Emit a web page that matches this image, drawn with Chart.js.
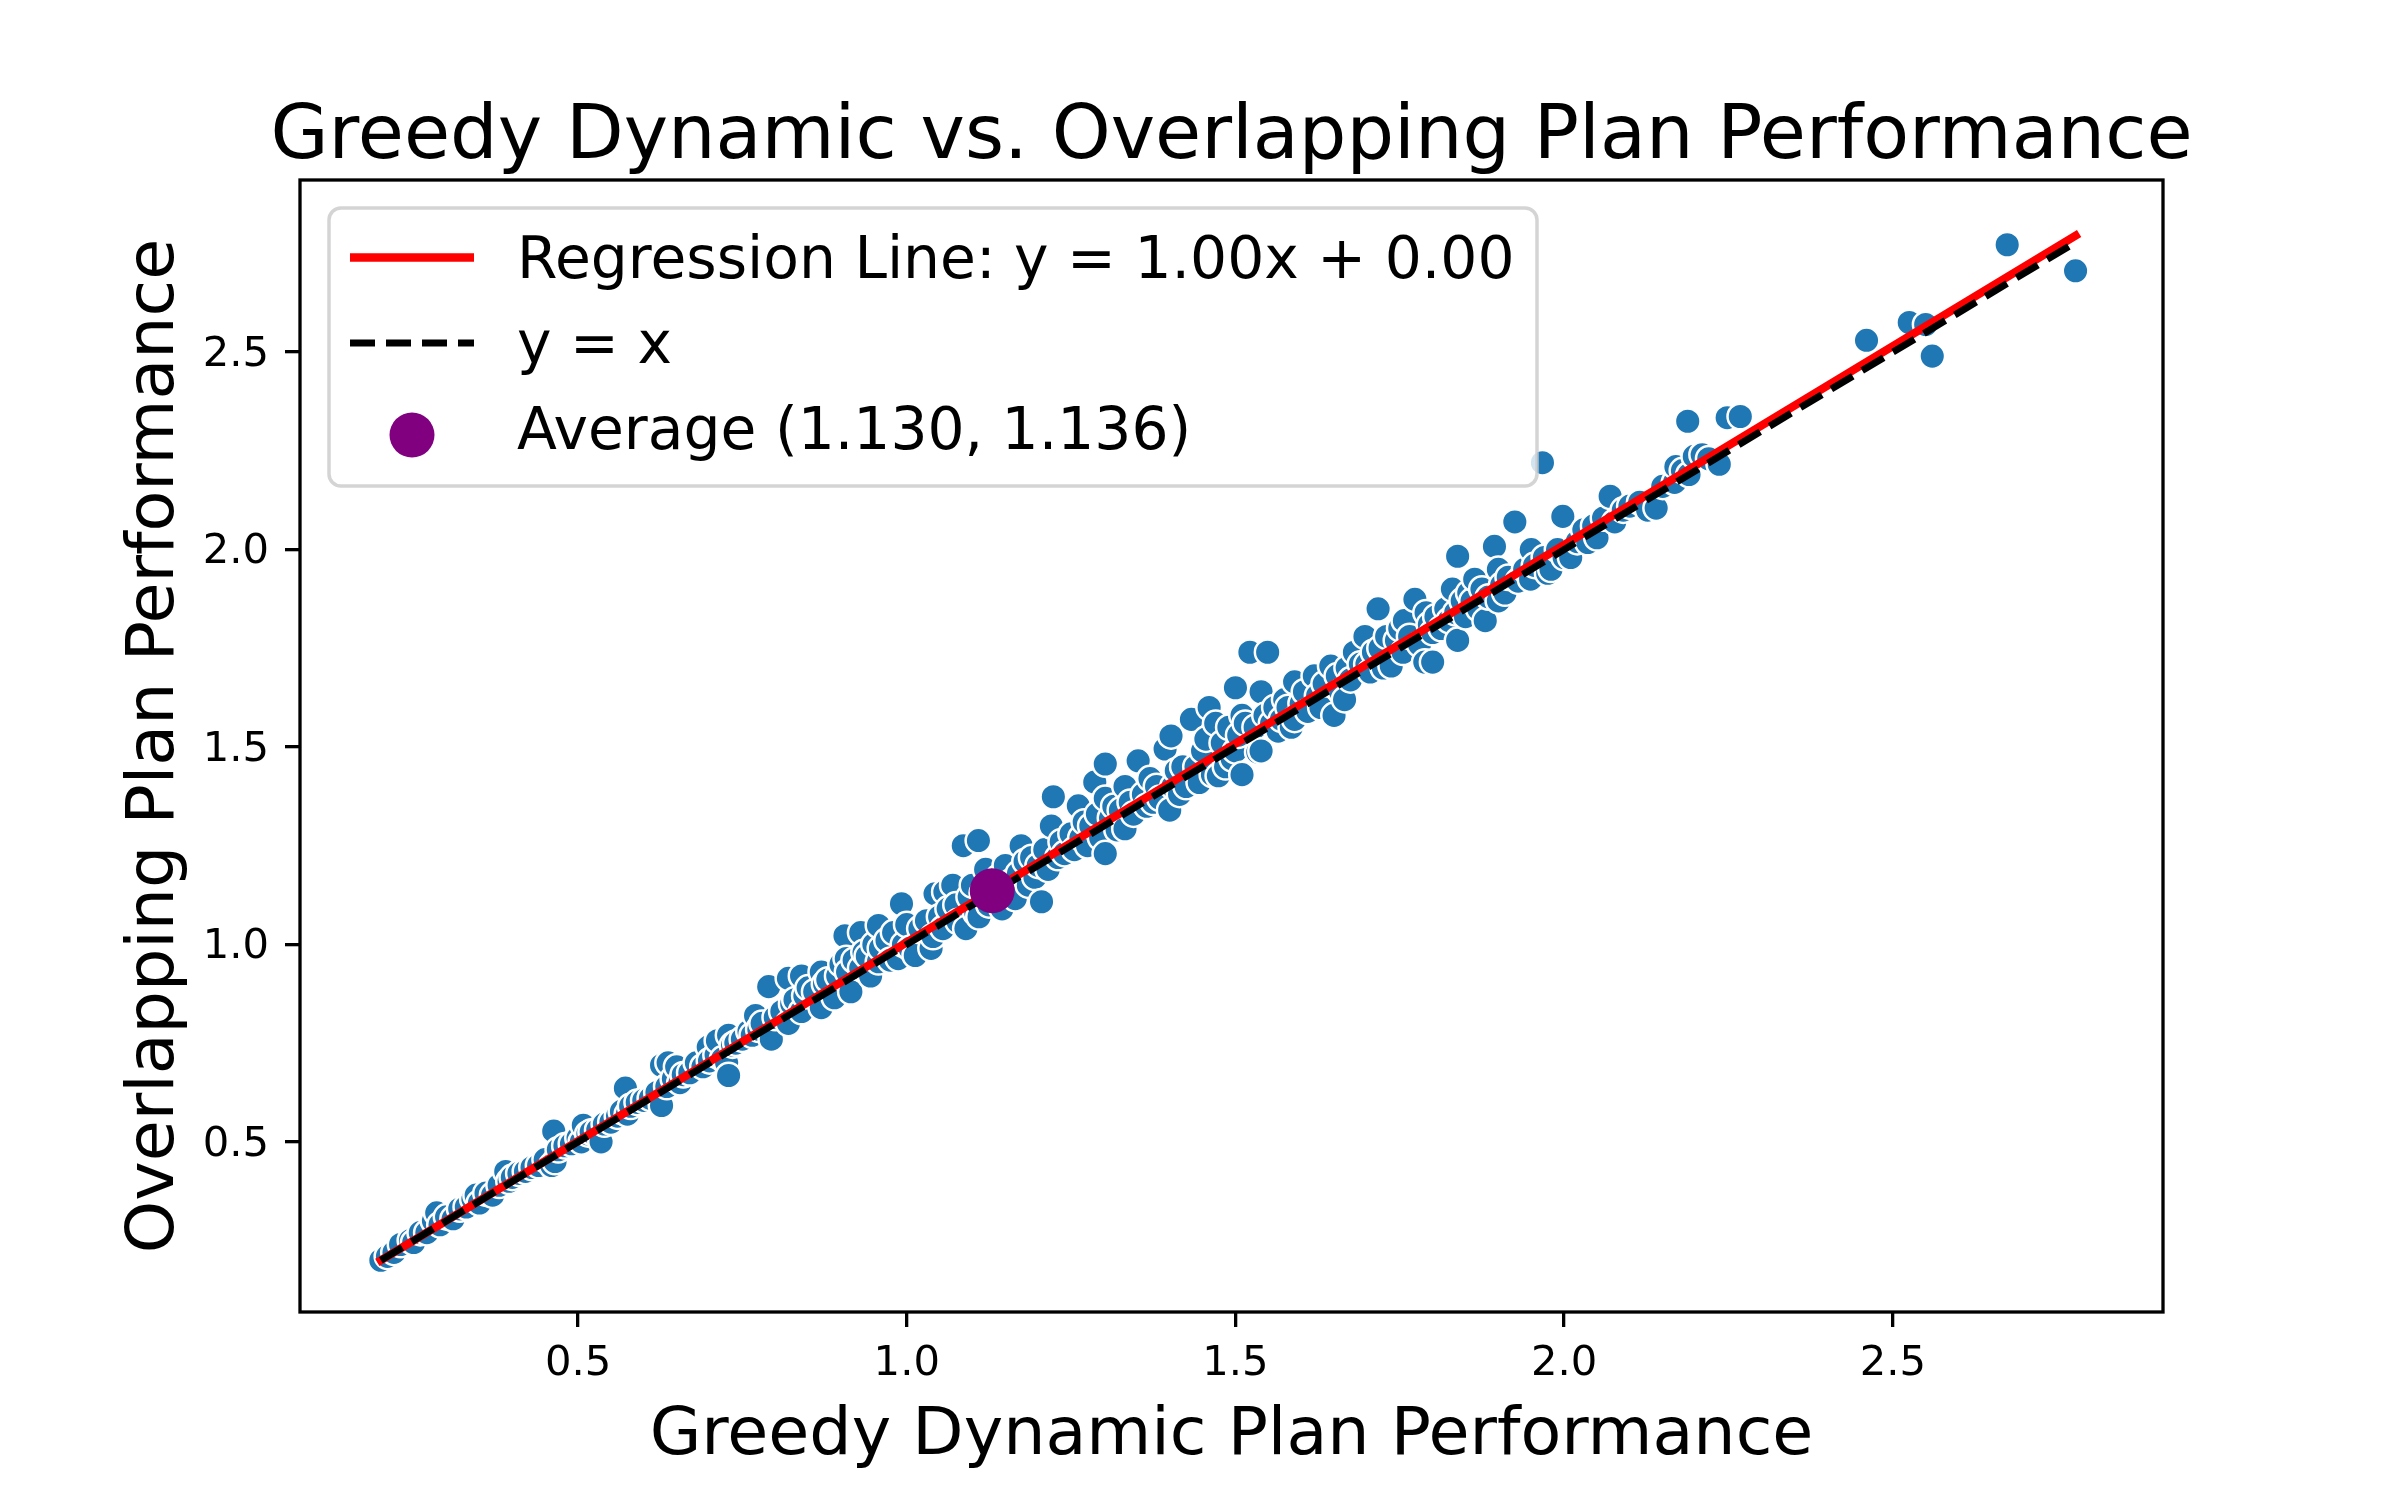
<!DOCTYPE html>
<html><head><meta charset="utf-8">
<script src="https://cdn.jsdelivr.net/npm/chart.js@4.4.1/dist/chart.umd.min.js"></script>
<style>html,body{margin:0;padding:0;background:#fff;}canvas{display:block;}</style>
</head><body>
<canvas id="c" width="2400" height="1500" style="width:2400px;height:1500px"></canvas>
<script>
// ---- data ----
const greedyPerf = [
 0.20,0.21,0.22,0.23,0.245,0.25,0.26,0.27,0.28,0.285,0.29,0.30,0.31,0.32,0.33,0.34,0.345,0.35,0.36,0.37,0.38,0.39,0.395,0.40,0.41,0.42,0.43,0.44,0.45,0.46,0.463,0.465,0.47,0.48,0.49,0.50,
 0.505,0.508,0.515,0.52,0.53,0.535,0.54,0.55,0.56,0.566,0.572,0.575,0.58,0.59,0.60,0.61,0.62,0.627,0.627,0.635,0.637,0.645,0.65,0.655,0.66,0.67,0.68,0.69,0.698,0.70,0.71,0.712,0.72,0.726,0.729,0.729,0.735,0.74,0.75,0.76,0.765,0.77,0.775,0.78,0.79,0.794,0.80,
 0.81,0.82,0.82,0.825,0.83,0.84,0.84,0.845,0.85,0.86,0.87,0.87,0.875,0.88,0.89,0.895,0.90,0.906,0.908,0.91,0.915,0.92,0.93,0.93,0.935,0.94,0.945,0.95,0.957,0.957,0.96,0.97,0.975,0.98,0.987,0.992,0.995,1.0,1.005,
 1.013,1.02,1.03,1.037,1.04,1.043,1.05,1.055,1.058,1.063,1.07,1.075,1.078,1.086,1.09,1.095,1.10,1.105,1.109,1.11,1.115,1.12,1.125,1.135,1.14,1.145,1.15,1.155,1.16,1.165,1.17,1.174,1.18,1.185,1.19,1.195,1.20,
 1.205,1.21,1.215,1.22,1.223,1.23,1.235,1.24,1.25,1.255,1.261,1.265,1.27,1.275,1.28,1.286,1.29,1.295,1.302,1.302,1.302,1.31,1.315,1.32,1.325,1.332,1.332,1.34,1.345,1.352,1.36,1.365,1.37,1.375,1.38,1.385,1.393,1.40,1.402,1.405,1.41,1.415,1.42,1.425,1.433,1.44,1.445,1.45,1.455,1.46,1.465,1.47,1.474,1.48,1.485,1.49,1.495,1.50,1.50,
 1.505,1.51,1.51,1.515,1.522,1.53,1.534,1.539,1.539,1.545,1.549,1.555,1.56,1.565,1.57,1.575,1.58,1.585,1.59,1.59,1.60,1.605,1.61,1.62,1.625,1.63,1.635,1.645,1.65,1.655,1.66,1.666,1.67,1.675,1.681,1.69,1.697,1.70,1.705,1.71,1.717,1.72,1.725,1.73,1.737,1.745,1.75,1.755,1.757,1.765,1.773,1.78,1.788,1.79,1.795,1.80,1.80,
 1.805,1.813,1.82,1.825,1.83,1.835,1.838,1.838,1.845,1.85,1.855,1.86,1.864,1.87,1.875,1.88,1.885,1.894,1.90,1.90,1.905,1.91,1.915,1.925,1.93,1.94,1.949,1.95,1.955,1.967,1.97,1.975,1.98,1.99,1.998,2.0,
 2.01,2.02,2.03,2.036,2.045,2.05,2.06,2.07,2.077,2.09,2.10,2.115,2.127,2.14,2.15,2.168,2.17,2.18,2.188,2.19,2.198,2.21,2.22,2.236,2.248,2.268,
 2.46,2.525,2.55,2.56,2.674,2.778
];
const overlapPerf = [
 0.20,0.21,0.22,0.24,0.25,0.245,0.27,0.27,0.30,0.32,0.29,0.31,0.305,0.33,0.335,0.355,0.365,0.345,0.37,0.365,0.39,0.425,0.40,0.41,0.42,0.425,0.435,0.44,0.455,0.44,0.527,0.45,0.48,0.49,0.495,0.51,
 0.50,0.542,0.52,0.525,0.53,0.50,0.545,0.55,0.565,0.577,0.636,0.57,0.59,0.60,0.605,0.61,0.625,0.592,0.694,0.64,0.70,0.66,0.69,0.65,0.67,0.675,0.70,0.69,0.74,0.705,0.72,0.756,0.71,0.70,0.77,0.668,0.745,0.75,0.76,0.78,0.77,0.82,0.785,0.80,0.893,0.76,0.815,
 0.83,0.914,0.80,0.85,0.86,0.92,0.83,0.87,0.89,0.88,0.93,0.84,0.90,0.91,0.865,0.92,0.95,1.022,0.964,0.93,0.88,0.96,1.03,0.94,0.98,0.97,0.92,1.0,1.048,0.956,0.99,1.01,0.96,1.03,0.964,1.103,1.0,1.05,0.99,
 0.972,1.04,1.06,0.99,1.02,1.128,1.07,1.04,1.133,1.09,1.15,1.10,1.058,1.25,1.04,1.12,1.15,1.08,1.263,1.07,1.13,1.19,1.10,1.14,1.17,1.09,1.20,1.13,1.16,1.116,1.18,1.25,1.21,1.15,1.22,1.17,1.20,
 1.108,1.24,1.19,1.30,1.374,1.22,1.26,1.23,1.28,1.24,1.351,1.27,1.31,1.25,1.30,1.411,1.33,1.27,1.457,1.37,1.23,1.32,1.35,1.29,1.34,1.293,1.40,1.36,1.33,1.465,1.38,1.35,1.42,1.36,1.40,1.37,1.495,1.34,1.528,1.40,1.44,1.38,1.45,1.40,1.57,1.45,1.41,1.49,1.52,1.60,1.43,1.56,1.427,1.51,1.45,1.55,1.47,1.49,1.65,
 1.53,1.43,1.58,1.56,1.74,1.55,1.487,1.64,1.49,1.58,1.74,1.56,1.60,1.54,1.57,1.62,1.60,1.55,1.665,1.57,1.61,1.64,1.59,1.68,1.63,1.60,1.66,1.705,1.58,1.68,1.64,1.62,1.70,1.67,1.74,1.71,1.78,1.71,1.69,1.74,1.85,1.75,1.70,1.78,1.705,1.77,1.80,1.74,1.82,1.78,1.874,1.76,1.715,1.84,1.81,1.715,1.79,
 1.83,1.80,1.85,1.82,1.90,1.84,1.983,1.77,1.87,1.83,1.89,1.87,1.925,1.85,1.90,1.82,1.88,2.008,1.87,1.95,1.91,1.89,1.93,2.07,1.92,1.95,1.925,2.0,1.96,2.22,1.98,1.94,1.95,2.0,2.084,1.98,
 1.98,2.02,2.05,2.018,2.06,2.03,2.08,2.135,2.07,2.10,2.11,2.12,2.10,2.105,2.16,2.17,2.21,2.20,2.325,2.19,2.236,2.24,2.23,2.216,2.334,2.337,
 2.53,2.575,2.57,2.49,2.772,2.706
];
const regSlope = 1.0066;
const regIntercept = -0.0013;
const avgGreedy = 1.130;
const avgOverlap = 1.136;
const xTickValues = [0.5, 1.0, 1.5, 2.0, 2.5];
const xTickLabels = ['0.5', '1.0', '1.5', '2.0', '2.5'];
const yTickValues = [0.5, 1.0, 1.5, 2.0, 2.5];
const yTickLabels = ['0.5', '1.0', '1.5', '2.0', '2.5'];
const xRange = [0.077, 2.911];
const yRange = [0.069, 2.936];
const titleText = 'Greedy Dynamic vs. Overlapping Plan Performance';
const xAxisTitle = 'Greedy Dynamic Plan Performance';
const yAxisTitle = 'Overlapping Plan Performance';
const seriesLabels = ['Regression Line: y = 1.00x + 0.00', 'y = x', 'Average (1.130, 1.136)', 'Plans'];

// ---- build ----
const FONT = 'DejaVu Sans';
const n = Math.min(greedyPerf.length, overlapPerf.length);
const scatterPts = [];
for (let i = 0; i < n; i++) scatterPts.push({x: greedyPerf[i], y: overlapPerf[i]});
const xMin = Math.min(...greedyPerf), xMax = Math.max(...greedyPerf);
const identityPts = [{x: xMin, y: xMin}, {x: xMax, y: xMax}];
const regPts = [{x: xMin, y: regSlope * xMin + regIntercept}, {x: xMax, y: regSlope * xMax + regIntercept}];

const legendPlugin = {
  id: 'mplLegend',
  afterLayout(chart) {
    // let the title be centred over the plot but wider than it (no squeezing)
    const t = chart.titleBlock, a = chart.chartArea;
    if (t) {
      const c = (a.left + a.right) / 2;
      t.left = c - 1150; t.right = c + 1150; t.width = 2300;
    }
  },
  afterDatasetsDraw(chart) {
    const ctx = chart.ctx, a = chart.chartArea;
    const bx = a.left + 29, by = a.top + 28, bw = 1208, bh = 278;
    ctx.save();
    ctx.beginPath();
    ctx.roundRect(bx, by, bw, bh, 12);
    ctx.fillStyle = 'rgba(255,255,255,0.8)';
    ctx.fill();
    ctx.lineWidth = 3.5;
    ctx.strokeStyle = 'rgba(204,204,204,0.85)';
    ctx.stroke();
    const ds = chart.data.datasets;
    const hx0 = bx + 21, hx1 = bx + 145, tx = bx + 188;
    const rows = [by + 49.5, by + 135, by + 221];
    const base = [by + 69.5, by + 155, by + 241];
    ctx.lineCap = 'butt';
    ctx.setLineDash([]);
    ctx.strokeStyle = ds[2].borderColor; ctx.lineWidth = ds[2].borderWidth;
    ctx.beginPath(); ctx.moveTo(hx0, rows[0]); ctx.lineTo(hx1, rows[0]); ctx.stroke();
    ctx.strokeStyle = ds[1].borderColor; ctx.lineWidth = ds[1].borderWidth;
    ctx.setLineDash(ds[1].borderDash);
    ctx.beginPath(); ctx.moveTo(hx0, rows[1]); ctx.lineTo(hx1, rows[1]); ctx.stroke();
    ctx.setLineDash([]);
    ctx.fillStyle = ds[0].pointBackgroundColor;
    ctx.beginPath(); ctx.arc((hx0 + hx1) / 2, rows[2] + 6, ds[0].pointRadius, 0, Math.PI * 2); ctx.fill();
    ctx.fillStyle = '#000';
    ctx.font = '58.3px "' + FONT + '"';
    ctx.textBaseline = 'alphabetic';
    ctx.textAlign = 'left';
    ctx.fillText(ds[2].label, tx, base[0]);
    ctx.fillText(ds[1].label, tx, base[1]);
    ctx.fillText(ds[0].label, tx, base[2]);
    ctx.restore();
  },
  afterDraw(chart) {
    const ctx = chart.ctx, a = chart.chartArea;
    ctx.save();
    ctx.lineWidth = 3.3;
    ctx.strokeStyle = '#000';
    ctx.strokeRect(a.left, a.top, a.right - a.left, a.bottom - a.top);
    ctx.restore();
  }
};

Chart.defaults.font.family = FONT;
Chart.defaults.color = '#000';

new Chart(document.getElementById('c'), {
  type: 'scatter',
  data: {
    datasets: [
      {label: seriesLabels[2], data: [{x: avgGreedy, y: avgOverlap}],
       pointBackgroundColor: '#800080', backgroundColor: '#800080', pointBorderWidth: 0, borderWidth: 0,
       pointRadius: 22.5, pointHoverRadius: 22.5, order: 0},
      {label: seriesLabels[1], data: identityPts, showLine: true, borderColor: '#000000',
       borderWidth: 7, borderDash: [25, 11], borderCapStyle: 'butt', pointRadius: 0, pointHoverRadius: 0, order: 1},
      {label: seriesLabels[0], data: regPts, showLine: true, borderColor: '#ff0000',
       borderWidth: 8.3, borderCapStyle: 'square', pointRadius: 0, pointHoverRadius: 0, order: 2},
      {label: seriesLabels[3], data: scatterPts, pointBackgroundColor: '#1f77b4', backgroundColor: '#1f77b4',
       pointBorderColor: '#ffffff', pointBorderWidth: 2.5, pointRadius: 12.8, pointHoverRadius: 12.8, order: 3}
    ]
  },
  options: {
    responsive: false,
    devicePixelRatio: 1,
    animation: false,
    events: [],
    layout: {padding: {left: 0, right: 237, top: 0, bottom: 0}},
    plugins: {
      legend: {display: false},
      tooltip: {enabled: false},
      title: {display: true, text: titleText, fullSize: false, color: '#000',
              font: {size: 75, weight: 'normal', family: FONT, lineHeight: 1.0},
              padding: {top: 100.7, bottom: 4.3}}
    },
    scales: {
      x: {
        type: 'linear', position: 'bottom', min: xRange[0], max: xRange[1],
        afterFit: s => { s.height = 188; },
        afterBuildTicks: s => { s.ticks = xTickValues.map(v => ({value: v})); },
        ticks: {includeBounds: false, color: '#000', padding: 12,
                font: {size: 41.7, family: FONT, lineHeight: 1.2},
                callback: v => xTickLabels[xTickValues.indexOf(v)], maxRotation: 0, autoSkip: false},
        grid: {display: true, drawOnChartArea: false, drawTicks: true, tickLength: 15, tickWidth: 3.3, tickColor: '#000', lineWidth: 3.3, color: '#000'},
        border: {display: false},
        title: {display: true, text: xAxisTitle, color: '#000',
                font: {size: 66.7, family: FONT, lineHeight: 1.2}, padding: {top: 0, bottom: 23}}
      },
      y: {
        type: 'linear', position: 'left', min: yRange[0], max: yRange[1],
        afterFit: s => { s.width = 300; },
        afterBuildTicks: s => { s.ticks = yTickValues.map(v => ({value: v})); },
        ticks: {includeBounds: false, color: '#000', padding: 16, labelOffset: 3,
                font: {size: 41.7, family: FONT, lineHeight: 1.2},
                callback: v => yTickLabels[yTickValues.indexOf(v)], autoSkip: false},
        grid: {display: true, drawOnChartArea: false, drawTicks: true, tickLength: 15, tickWidth: 3.3, tickColor: '#000', lineWidth: 3.3, color: '#000'},
        border: {display: false},
        title: {display: true, text: yAxisTitle, color: '#000',
                font: {size: 66.7, family: FONT, lineHeight: 1.2}, padding: {top: 116, bottom: 0}}
      }
    }
  },
  plugins: [legendPlugin]
});
</script>
</body></html>
